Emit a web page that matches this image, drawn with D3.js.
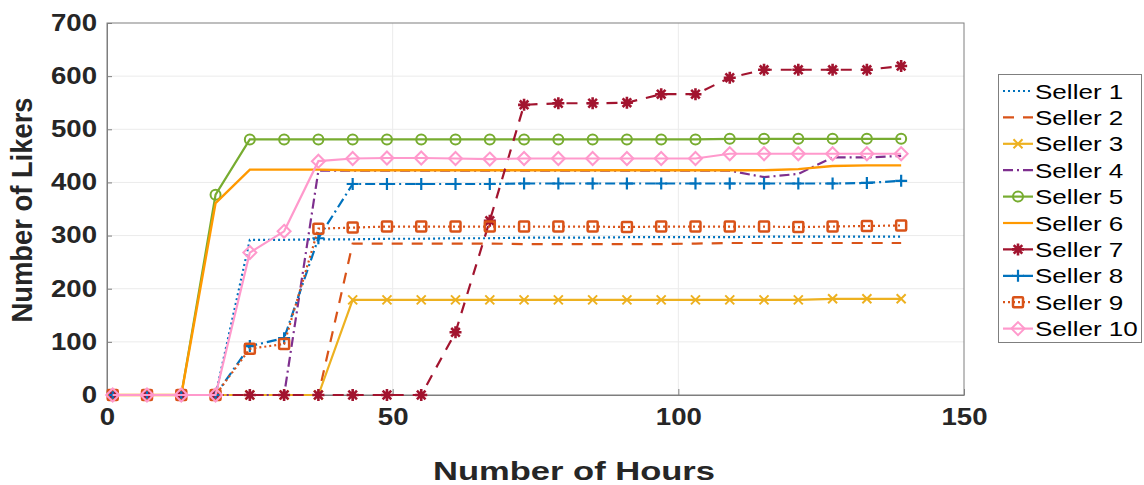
<!DOCTYPE html>
<html lang="en">
<head>
<meta charset="utf-8">
<title>Number of Likers</title>
<style>
  body { margin: 0; background: #fff; }
  svg { display: block; font-family: "Liberation Sans", Arial, sans-serif; }
  .grid line { stroke: #ebebeb; stroke-width: 1; }
  .axis path, .axis line { stroke: #7f7f7f; }
  .axis text { font-size: 23px; font-weight: bold; fill: #262626; }
</style>
</head>
<body>
<svg></svg>
<script src="https://cdn.jsdelivr.net/npm/d3@7"></script>
<script>
// hours at which the counts were taken
var hours = [1, 7, 13, 19, 25, 31, 37, 43, 49, 55, 61, 67, 73, 79, 85, 91, 97, 103, 109, 115, 121, 127, 133, 139];

var seller1 = [0, 0, 0, 0, 292, 292, 293, 293, 294, 294, 295, 295, 296, 296, 296, 297, 297, 297, 297, 298, 298, 298, 298, 298];
var seller2 = [0, 0, 0, 0, 0, 0, 0, 285, 285, 285, 285, 285, 284, 284, 284, 284, 284, 285, 286, 286, 286, 286, 286, 286];
var seller3 = [0, 0, 0, 0, 0, 0, 0, 179, 179, 179, 179, 179, 179, 179, 179, 179, 179, 179, 179, 179, 179, 181, 181, 181];
var seller4 = [0, 0, 0, 0, 0, 0, 422, 422, 422, 422, 422, 422, 422, 422, 422, 422, 422, 422, 422, 410, 416, 447, 447, 450];
var seller5 = [0, 0, 0, 377, 481, 481, 481, 481, 481, 481, 481, 481, 481, 481, 481, 481, 481, 481, 482, 482, 482, 482, 482, 482];
var seller6 = [0, 0, 0, 361, 424, 424, 424, 423, 423, 423, 423, 423, 423, 423, 423, 423, 423, 423, 423, 423, 425, 431, 432, 432];
var seller7 = [0, 0, 0, 0, 0, 0, 0, 0, 0, 0, 118, 328, 546, 549, 549, 550, 566, 566, 597, 612, 612, 612, 612, 619];
var seller8 = [0, 0, 0, 0, 92, 107, 295, 397, 397, 397, 397, 397, 398, 398, 398, 398, 398, 398, 398, 398, 398, 398, 399, 403];
var seller9 = [0, 0, 0, 0, 87, 96, 313, 315, 317, 317, 317, 317, 317, 317, 317, 316, 317, 317, 317, 317, 316, 317, 318, 319];
var seller10 = [0, 0, 0, 0, 268, 308, 440, 445, 446, 446, 445, 444, 445, 445, 445, 445, 445, 445, 454, 454, 454, 454, 454, 454];

var xTicks = [0, 50, 100, 150];
var yTicks = [0, 100, 200, 300, 400, 500, 600, 700];

// line styles, one per seller
var series = [
  { name: "Seller 1", values: seller1, color: "#0072bd", dash: "2,3", marker: null },
  { name: "Seller 2", values: seller2, color: "#d95319", dash: "11,9", marker: null },
  { name: "Seller 3", values: seller3, color: "#edb120", dash: null, marker: "x" },
  { name: "Seller 4", values: seller4, color: "#7e2f8e", dash: "10,4,2,4", marker: null },
  { name: "Seller 5", values: seller5, color: "#77ac30", dash: null, marker: "circle" },
  { name: "Seller 6", values: seller6, color: "#ff9900", dash: null, marker: null },
  { name: "Seller 7", values: seller7, color: "#a2142f", dash: "11,9", marker: "star" },
  { name: "Seller 8", values: seller8, color: "#0072bd", dash: "10,4,2,4", marker: "plus" },
  { name: "Seller 9", values: seller9, color: "#d95319", dash: "2,3", marker: "square" },
  { name: "Seller 10", values: seller10, color: "#ff99cc", dash: null, marker: "diamond" }
];

var width = 1144, height = 485;
var plotLeft = 107, plotRight = 964, plotTop = 23, plotBottom = 395;
var stretch = 1.2; // the picture's text is wider than normal

var svg = d3.select("svg").attr("width", width).attr("height", height);

var x = d3.scaleLinear().domain([0, 150]).range([plotLeft, plotRight]);
var y = d3.scaleLinear().domain([0, 700]).range([plotBottom, plotTop]);

function widen(sel, f) {
  sel.each(function() {
    var w = this.getComputedTextLength();
    d3.select(this).attr("textLength", w * f).attr("lengthAdjust", "spacingAndGlyphs");
  });
}

// grid
var grid = svg.append("g").attr("class", "grid");
grid.selectAll(".h").data(yTicks.slice(1, -1)).enter().append("line")
  .attr("x1", plotLeft).attr("x2", plotRight)
  .attr("y1", function(d) { return y(d); }).attr("y2", function(d) { return y(d); });
grid.selectAll(".v").data(xTicks.slice(1, -1)).enter().append("line")
  .attr("y1", plotTop).attr("y2", plotBottom)
  .attr("x1", function(d) { return x(d); }).attr("x2", function(d) { return x(d); });

// axes
var gx = svg.append("g").attr("class", "axis")
  .attr("transform", "translate(0," + plotBottom + ")")
  .call(d3.axisBottom(x).tickValues(xTicks).tickSizeInner(-6).tickSizeOuter(0));
gx.selectAll("text").attr("y", 14);
widen(gx.selectAll("text"), stretch);

var gy = svg.append("g").attr("class", "axis")
  .attr("transform", "translate(" + plotLeft + ",0)")
  .call(d3.axisLeft(y).tickValues(yTicks).tickSizeInner(-5).tickSizeOuter(0));
gy.selectAll("text").attr("x", -10);
widen(gy.selectAll("text"), stretch);

// box
svg.append("rect")
  .attr("x", plotLeft).attr("y", plotTop)
  .attr("width", plotRight - plotLeft).attr("height", plotBottom - plotTop)
  .attr("fill", "none").attr("stroke", "#7f7f7f");

// markers
function drawMarker(g, type, color) {
  if (type == "circle") {
    g.append("circle").attr("r", 5).attr("fill", "none").attr("stroke", color).attr("stroke-width", 2);
  } else if (type == "diamond") {
    g.append("path").attr("d", "M0,-6.5L6.5,0L0,6.5L-6.5,0Z").attr("fill", "none").attr("stroke", color).attr("stroke-width", 2);
  } else if (type == "square") {
    g.append("rect").attr("x", -5).attr("y", -5).attr("width", 10).attr("height", 10).attr("rx", 1)
      .attr("fill", "none").attr("stroke", color).attr("stroke-width", 2.5);
  } else if (type == "x") {
    g.append("path").attr("d", "M-4.5,-4.5L4.5,4.5M-4.5,4.5L4.5,-4.5").attr("stroke", color).attr("stroke-width", 2);
  } else if (type == "plus") {
    g.append("path").attr("d", "M-6,0L6,0M0,-6L0,6").attr("stroke", color).attr("stroke-width", 2.2);
  } else if (type == "star") {
    g.append("path").attr("d", "M-6,0L6,0M0,-6L0,6M-4.3,-4.3L4.3,4.3M-4.3,4.3L4.3,-4.3").attr("stroke", color).attr("stroke-width", 2.6);
  }
}

var line = d3.line()
  .x(function(d, i) { return x(hours[i]); })
  .y(function(d) { return y(d); });

series.forEach(function(s) {
  var g = svg.append("g");
  g.append("path")
    .attr("d", line(s.values))
    .attr("fill", "none")
    .attr("stroke", s.color)
    .attr("stroke-width", s.name == "Seller 6" ? 2.4 : 2.2)
    .attr("stroke-dasharray", s.dash);
  if (s.marker) {
    s.values.forEach(function(v, i) {
      var m = g.append("g").attr("transform", "translate(" + x(hours[i]) + "," + y(v) + ")");
      drawMarker(m, s.marker, s.color);
    });
  }
});

// axis titles
var xl = svg.append("text")
  .attr("x", 574).attr("y", 480)
  .attr("text-anchor", "middle")
  .style("font-size", "26px").style("font-weight", "bold").style("fill", "#262626")
  .text("Number of Hours");
xl.attr("textLength", 282).attr("lengthAdjust", "spacingAndGlyphs");

var yl = svg.append("text")
  .attr("transform", "translate(32,210) rotate(-90)")
  .attr("text-anchor", "middle")
  .style("font-size", "29px").style("font-weight", "bold").style("fill", "#262626")
  .text("Number of Likers");
yl.attr("textLength", 225).attr("lengthAdjust", "spacingAndGlyphs");

// legend
var legend = svg.append("g");
legend.append("rect")
  .attr("x", 998.5).attr("y", 74.5).attr("width", 143).attr("height", 268)
  .attr("fill", "#fff").attr("stroke", "#7f7f7f");

series.forEach(function(s, i) {
  var ly = 91 + i * 26.4;
  var item = legend.append("g");
  item.append("line")
    .attr("x1", 1003).attr("x2", 1033).attr("y1", ly).attr("y2", ly)
    .attr("stroke", s.color).attr("stroke-width", 2.2)
    .attr("stroke-dasharray", s.dash);
  if (s.marker) {
    var m = item.append("g").attr("transform", "translate(1018," + ly + ")");
    drawMarker(m, s.marker, s.color);
  }
  var t = item.append("text")
    .attr("x", 1035).attr("y", ly + 7.5)
    .style("font-size", "21px").style("fill", "#000")
    .text(s.name);
  widen(t, 1.24);
});
</script>
</body>
</html>
